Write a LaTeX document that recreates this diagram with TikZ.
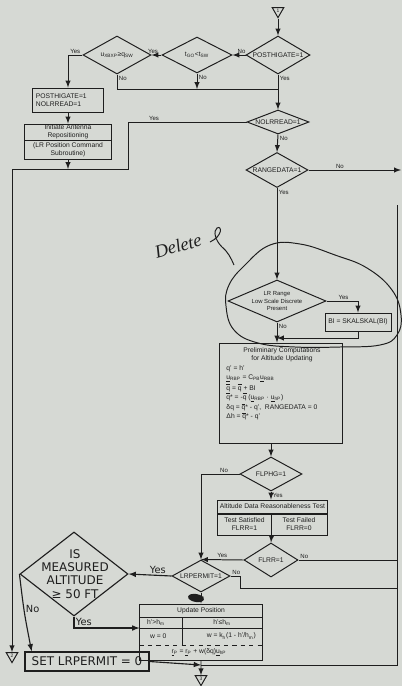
\documentclass[tikz,border=0pt]{standalone}
\usepackage{fontspec}
\setmainfont{Liberation Sans}
\newfontfamily\handfont{DejaVu Sans}
\newfontfamily\notefont{Liberation Serif}
\usetikzlibrary{shapes.geometric,positioning}

\definecolor{paper}{RGB}{214,217,212}
\definecolor{ink}{RGB}{30,30,30}

\newcommand{\flowfont}{\fontsize{4.8}{5.7}\selectfont}
\newcommand{\qbar}{$\overline{\mbox{q}}$}
\newcommand{\askdiamond}[6]{
	\node[decide, minimum width=#3, minimum height=#4, aspect=#5] (#1) at (#2) {#6};
}

\tikzset{
	decide/.style={draw, diamond, inner sep=0pt, align=center},
	box/.style={draw, rectangle, inner sep=0.5pt, align=center},
	offpage/.style={draw, regular polygon, regular polygon sides=3, shape border rotate=180, inner sep=0pt, minimum size=0.33cm, font=\fontsize{3.5}{4}\selectfont},
	lbl/.style={font=\fontsize{4.3}{5}\selectfont, inner sep=1pt},
	hand/.style={font=\handfont\fontsize{8.5}{9.4}\selectfont, align=center, inner sep=1pt},
	handlbl/.style={font=\handfont\fontsize{7}{8}\selectfont, inner sep=1pt},
	handline/.style={line width=0.8pt},
}

\begin{document}
\begin{tikzpicture}[x=0.025cm,y=-0.025cm,>=latex,font=\flowfont,color=ink,line width=0.7pt]
	\fill[paper] (0,0) rectangle (402,686);
	\useasboundingbox (0,0) rectangle (402,686);

	% top row of tests
	\node[offpage] (c1) at (278,11) {1};
	\askdiamond{pg}{278,55}{1.6cm}{0.95cm}{1.68}{POSTHIGATE=1}
	\askdiamond{tgo}{197,55}{1.75cm}{0.9cm}{1.94}{t\textsubscript{GO}<t\textsubscript{SW}}
	\askdiamond{uxb}{117,55}{1.7cm}{0.95cm}{1.79}{u\textsubscript{XBXP}≥q\textsubscript{SW}}
	\coordinate (mrg) at (278,89);

	\node[box, minimum width=1.75cm, minimum height=0.6cm, text width=1.6cm, align=left] (set1) at (68,100) {POSTHIGATE=1\\NOLRREAD=1};
	\node[box, minimum width=2.15cm, minimum height=0.4cm] (ant) at (68,132) {Initiate Antenna\\Repositioning};
	\node[box, minimum width=2.15cm, minimum height=0.45cm, below=0pt of ant] (lrpc) {(LR Position Command\\Subroutine)};

	\askdiamond{nolr}{278,122}{1.55cm}{0.6cm}{2.58}{NOLRREAD=1}
	\coordinate (yb) at (128,169);
	\node[offpage] (c2) at (12,656) {2};
	\askdiamond{rng}{277,170}{1.55cm}{0.875cm}{1.77}{RANGEDATA=1}
	\coordinate (rngout) at (401,170);

	% deleted branch
	\node[decide, minimum width=2.45cm, minimum height=1.05cm, aspect=2.33, font=\fontsize{4.2}{5}\selectfont] (lrr) at (277,301) {LR Range\\Low Scale Discrete\\Present};
	\node[box, minimum width=1.65cm, minimum height=0.45cm] (bi) at (358,322) {BI = SKALSKAL(BI)};
	\coordinate (bij) at (277,338);

	% preliminary computations
	\node[box, minimum width=3.05cm, minimum height=2.5cm] (prelim) at (281,393) {};
	\node[align=center, inner sep=0pt, font=\fontsize{4.8}{5.8}\selectfont] (prelimhd) at (282,355) {Preliminary Computations\\for Altitude Updating};
	\node[anchor=north west, align=left, inner sep=0pt, font=\fontsize{4.8}{6.4}\selectfont] (prelimtx) at (226,365) {q' = h'\\
		\underline{u}\textsubscript{RBP} = C\textsubscript{PB}\underline{u}\textsubscript{RBB}\\
		\qbar{} = \qbar{} + BI\\
		\qbar* = -\qbar{} (\underline{u}\textsubscript{RBP} · \underline{u}\textsubscript{hP})\\
		δq = \qbar* - q',\ \ RANGEDATA = 0\\
		Δh = \qbar* - q'};

	\askdiamond{fhg}{271,474}{1.55cm}{0.85cm}{1.82}{FLPHG=1}
	\node[box, minimum width=2.725cm, minimum height=0.325cm] (ard) at (272.5,506.5) {Altitude Data Reasonableness Test};
	\node[box, minimum width=1.325cm, minimum height=0.525cm, anchor=north west] (tsat) at (ard.south west) {Test Satisfied\\FLRR=1};
	\node[box, minimum width=1.4cm, minimum height=0.525cm, anchor=north east] (tfail) at (ard.south east) {Test Failed\\FLRR=0};
	\askdiamond{flrr}{271,560}{1.35cm}{0.85cm}{1.59}{FLRR=1}
	\askdiamond{lrp}{201,576}{1.45cm}{0.8cm}{1.81}{LRPERMIT=1}

	\coordinate (rtop) at (397,205);
	\coordinate (rbot) at (397,665);
	\coordinate (lrpno) at (397,588);
	\coordinate (jn3) at (201,665);

	% update position
	\node[box, minimum width=3.05cm, minimum height=1.4cm] (upd) at (201,632) {};
	\draw (upd.west |- 0,617) -- (upd.east |- 0,617);
	\draw (upd.west |- 0,628) -- (upd.east |- 0,628);
	\draw[dashed] (upd.west |- 0,645) -- (upd.east |- 0,645);
	\draw (182,617) -- (182,645);
	\node (updt) at (201,610.5) {Update Position};
	\node[anchor=west] (hgt) at (142,622.5) {h'>h\textsubscript{m}};
	\node (hle) at (222,622.5) {h'≤h\textsubscript{m}};
	\node[anchor=west] (w0) at (145,636) {w = 0};
	\node[anchor=east] (wk) at (261,636) {w = k\textsubscript{h}(1 - h'/h\textsubscript{m})};
	\node (rp) at (199,652.5) {\underline{r}\textsubscript{P} = \underline{r}\textsubscript{P} + w(δq)\underline{u}\textsubscript{hP}};
	\node[offpage] (c3) at (201,679) {3};

	% hand written additions
	\node[decide, handline, minimum width=2.7cm, minimum height=2.1cm] (meas) at (74,574) {};
	\node[hand] (meastx) at (75,574) {IS\\MEASURED\\ALTITUDE\\≥ 50 FT};
	\node[box, hand, handline, minimum width=3.1cm, minimum height=0.475cm] (setp) at (87,661.5) {SET LRPERMIT = 0};

	% connectors
	\draw[->] (c1) -- (pg);
	\draw[->] (pg.west) -- node[lbl, pos=0.3, above] {No} (tgo.east);
	\draw[->] (tgo.west) -- node[lbl, pos=0.85, above] {Yes} (uxb.east);
	\draw[->] (uxb.west) -| node[lbl, pos=0.25, above] {Yes} (set1.north);
	\draw (uxb.south) node[lbl, anchor=north west] {No} |- (mrg);
	\draw[->] (tgo.south) node[lbl, anchor=north west] {No} -- (tgo.south |- mrg);
	\draw[->] (pg.south) node[lbl, anchor=north west] {Yes} -- (nolr.north);
	\draw[->] (set1.south) -- (ant.north);
	\draw[->] (lrpc.south) -- (lrpc.south |- yb);
	\draw[->] (nolr.west) -| node[lbl, pos=0.39, above] {Yes} (yb) -| (c2.north);
	\draw[->] (nolr.south) node[lbl, anchor=north west] {No} -- (rng.north);
	\draw[->] (rng.east) -- node[lbl, pos=0.34, above] {No} (rngout);
	\draw[->] (rng.south) node[lbl, anchor=north west] {Yes} -- (lrr.north);
	\draw[->] (lrr.east) -| node[lbl, pos=0.27, above] {Yes} (bi.north);
	\draw[->] (bi.south) |- (bij);
	\draw[->] (lrr.south) node[lbl, anchor=north west] {No} -- (lrr.south |- prelim.north);
	\draw[->] (prelim.south -| fhg.north) -- (fhg.north);
	\draw[->] (fhg.south) node[lbl, anchor=north west] {Yes} -- (fhg.south |- ard.north);
	\draw[->] (fhg.west) -| node[lbl, pos=0.2, above] {No} (lrp.north);
	\draw[->] (tsat.south east) -- (flrr.north);
	\draw[->] (flrr.west) -- node[lbl, above] {Yes} (lrp.north);
	\draw (flrr.east) node[lbl, anchor=south west] {No} -- (flrr.east -| rtop);
	\draw (lrp.east) node[lbl, anchor=south west] {No} -- ++(10,0) |- (lrpno);
	\draw (rtop) -- (rbot) -- (jn3);
	\draw[->] (lrp.south) -- (upd.north);
	\fill[rotate around={-10:(196,598)}] (196,598) ellipse (8 and 4);
	\draw[->] (upd.south) -- (c3.north);
	\draw[->, handline] (lrp.west) -- node[handlbl, pos=0.32, above] {Yes} (meas.east);
	\draw[->, handline] (meas.south) node[handlbl, anchor=north west] {Yes} |- (upd.west |- 0,628);
	\draw[->, handline] (meas.west) .. controls (24,612) .. node[handlbl, pos=0.45, right] {No} ([xshift=0.18cm]setp.north west);
	\draw[->, handline] (setp.east) -- (jn3);

	% delete note
	\node[rotate=16, font=\notefont\itshape\fontsize{13}{13}\selectfont] (dlt) at (178,246) {Delete};
	\draw (210,242) .. controls (223,236) and (222,225) .. (217,228) .. controls (213,231) and (215,240) .. (222,247) .. controls (228,252) and (231,258) .. (234,265);
	\draw plot[smooth cycle, tension=0.7] coordinates {(226,306) (229,285) (245,265) (270,245) (300,244) (335,255) (367,268) (392,290) (401,315) (397,335) (380,345) (340,347) (295,347) (258,343) (234,330)};
\end{tikzpicture}
\end{document}
